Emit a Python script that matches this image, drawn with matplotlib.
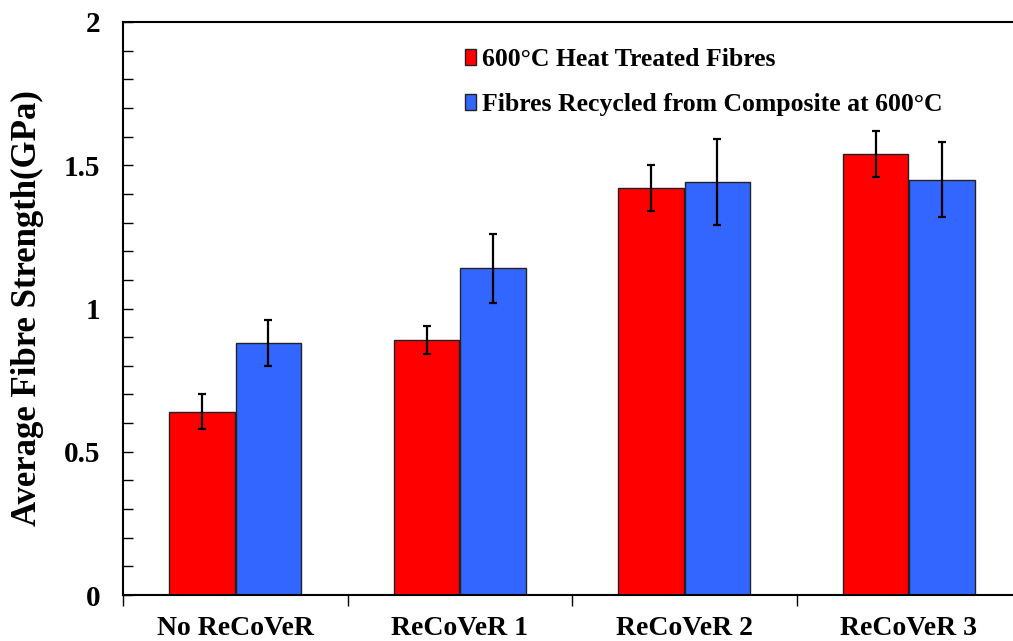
import numpy as np
import matplotlib
matplotlib.use("Agg")
import matplotlib.pyplot as plt
from matplotlib.ticker import MultipleLocator, FixedLocator, NullFormatter, FuncFormatter

# values
categories = ["No ReCoVeR", "ReCoVeR 1", "ReCoVeR 2", "ReCoVeR 3"]
heat_treated = [0.64, 0.89, 1.42, 1.54]
heat_treated_err = [0.06, 0.05, 0.08, 0.08]
recycled = [0.88, 1.14, 1.44, 1.45]
recycled_err = [0.08, 0.12, 0.15, 0.13]
series_labels = ["600°C Heat Treated Fibres",
                 "Fibres Recycled from Composite at 600°C"]

plt.rcParams["font.family"] = ["Liberation Serif", "DejaVu Serif"]
plt.rcParams["font.weight"] = "bold"

W, H = 1013, 641
fig = plt.figure(figsize=(W / 100, H / 100), dpi=100)
ax = fig.add_axes([123 / W, (H - 595) / H, (1021 - 123) / W, (595 - 22) / H])

x = np.arange(len(categories)) + 0.5
bw = 0.29
err_kw = dict(ecolor="black", elinewidth=1.6, capsize=2.8, capthick=1.6)
ax.bar(x - bw / 2 - 0.003, heat_treated, bw, yerr=heat_treated_err,
       color="#ff0000", edgecolor="#222222", linewidth=1,
       label=series_labels[0], error_kw=err_kw, zorder=2)
ax.bar(x + bw / 2 + 0.003, recycled, bw, yerr=recycled_err,
       color="#3366ff", edgecolor="#222222", linewidth=1,
       label=series_labels[1], error_kw=err_kw, zorder=2)

ax.set_xlim(0, 4)
ax.set_ylim(0, 2)

# x: boundary ticks pointing down, labels centred in each category
ax.xaxis.set_major_locator(FixedLocator(np.arange(0, 5)))
ax.xaxis.set_major_formatter(NullFormatter())
ax.xaxis.set_minor_locator(FixedLocator(x))
ax.set_xticklabels(categories, minor=True)
ax.tick_params(axis="x", which="major", direction="out", length=8, width=1)
ax.tick_params(axis="x", which="minor", length=0, pad=15, labelsize=20)

# y: inward ticks every 0.1, labels every 0.5
ax.yaxis.set_major_locator(MultipleLocator(0.5))
ax.yaxis.set_minor_locator(MultipleLocator(0.1))
ax.yaxis.set_major_formatter(FuncFormatter(lambda v, p: f"{v:g}"))
ax.tick_params(axis="y", which="both", direction="in", length=7, width=1,
               pad=16.5, labelsize=21)
for lbl in ax.get_yticklabels() + ax.get_xticklabels(minor=True):
    lbl.set_fontweight("bold")

ax.set_ylabel("Average Fibre Strength(GPa)", fontsize=25, fontweight="bold",
              labelpad=14)

for side in ["left", "bottom", "top"]:
    ax.spines[side].set_linewidth(1.5)
ax.spines["right"].set_visible(False)

leg = ax.legend(loc="upper left", bbox_to_anchor=((455 - 123) / 898, 1 - 16 / 573),
                frameon=False, fontsize=18.5, handlelength=0.4, handleheight=0.55,
                handletextpad=0.25, labelspacing=0.85, borderaxespad=0)
for t in leg.get_texts():
    t.set_fontweight("bold")

fig.savefig("out.png", dpi=100)
